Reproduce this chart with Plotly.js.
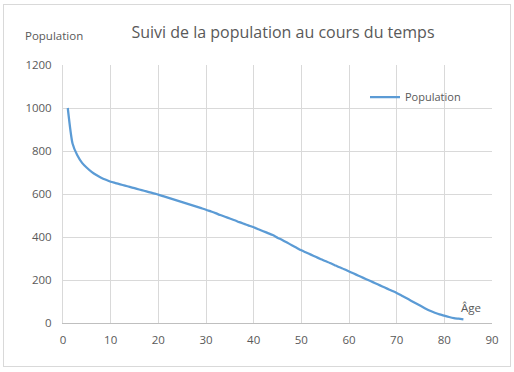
<!DOCTYPE html>
<html>
<head>
<meta charset="utf-8">
<script src="https://cdn.plot.ly/plotly-3.0.1.min.js"></script>
<style>
html,body{margin:0;padding:0;background:#fff;}
#chart{width:514px;height:372px;position:relative;}
#frame{position:absolute;left:3px;top:4px;width:506px;height:361px;border:1px solid #d9d9d9;pointer-events:none;}
</style>
</head>
<body>
<div id="chart"></div>
<div id="frame"></div>
<script>
const chartTitle = "Suivi de la population au cours du temps";
const seriesName = "Population";
const yAxisLabel = "Population";
const xAxisLabel = "Âge";
const ages = [1,2,3,4,5,6,7,8,9,10,11,12,13,14,15,16,17,18,19,20,21,22,23,24,25,26,27,28,29,30,31,32,33,34,35,36,37,38,39,40,41,42,43,44,45,46,47,48,49,50,51,52,53,54,55,56,57,58,59,60,61,62,63,64,65,66,67,68,69,70,71,72,73,74,75,76,77,78,79,80,81,82,83,84];
const population = [1000,835,780,745,722,703,688,676,666,657,651,645,639,633,627,621,615,609,603,597,590,583,576,569,562,555,548,541,534,527,519,511,502,494,486,478,469,461,453,445,436,427,418,409,397,386,374,362,350,338,328,318,308,298,288,279,269,259,250,240,230,220,210,200,190,180,170,160,150,140,128,116,104,92,80,68,57,48,40,34,28,23,20,17];
const xTicks = [0,10,20,30,40,50,60,70,80,90];
const yTicks = [0,200,400,600,800,1000,1200];

const fontFam = "Open Sans, Liberation Sans, sans-serif";
const grey = "#595959";

const trace = {
  x: ages, y: population, type: "scatter", mode: "lines", name: seriesName,
  line: {color: "#5b9bd5", width: 2.25, shape: "spline", smoothing: 0.6}
};

const layout = {
  width: 514, height: 372,
  margin: {l: 63, r: 22, t: 65, b: 49},
  paper_bgcolor: "#fff", plot_bgcolor: "#fff",
  font: {family: fontFam, color: grey, size: 11},
  title: {text: chartTitle, x: 283/514, xanchor: "center", y: 1 - 32/372, yanchor: "middle",
          font: {family: fontFam, size: 16, color: grey}},
  xaxis: {range: [0, 90], tickvals: xTicks, ticktext: xTicks.map(String),
          showgrid: true, gridcolor: "#d9d9d9", gridwidth: 1,
          zeroline: false, showline: true, linecolor: "#bfbfbf", linewidth: 1,
          ticks: "", ticklabelstandoff: 6, tickfont: {size: 11.5, color: grey, family: fontFam}, fixedrange: true},
  yaxis: {range: [0, 1200], tickvals: yTicks, ticktext: yTicks.map(String),
          showgrid: true, gridcolor: "#d9d9d9", gridwidth: 1,
          zeroline: false, showline: true, linecolor: "#d9d9d9", linewidth: 1,
          ticks: "", ticklabelstandoff: 8, tickfont: {size: 11.5, color: grey, family: fontFam}, fixedrange: true},
  showlegend: true,
  legend: {x: (365-63)/429, xref: "paper", y: (323-97)/258, yref: "paper", yanchor: "middle", xanchor: "left",
           bgcolor: "rgba(0,0,0,0)", itemwidth: 30, font: {size: 11, color: grey, family: fontFam}},
  annotations: [
    {text: yAxisLabel, xref: "paper", yref: "paper", x: (23-63)/429, y: (372-49-35)/258, xanchor: "left", yanchor: "middle",
     showarrow: false, font: {size: 11.5, color: grey, family: fontFam}},
    {text: xAxisLabel, xref: "x", yref: "y", x: 85.6, y: 72, xanchor: "center", yanchor: "middle",
     showarrow: false, font: {size: 11.5, color: grey, family: fontFam}}
  ]
};

Plotly.newPlot("chart", [trace], layout, {displayModeBar: false, staticPlot: true});
</script>
</body>
</html>
